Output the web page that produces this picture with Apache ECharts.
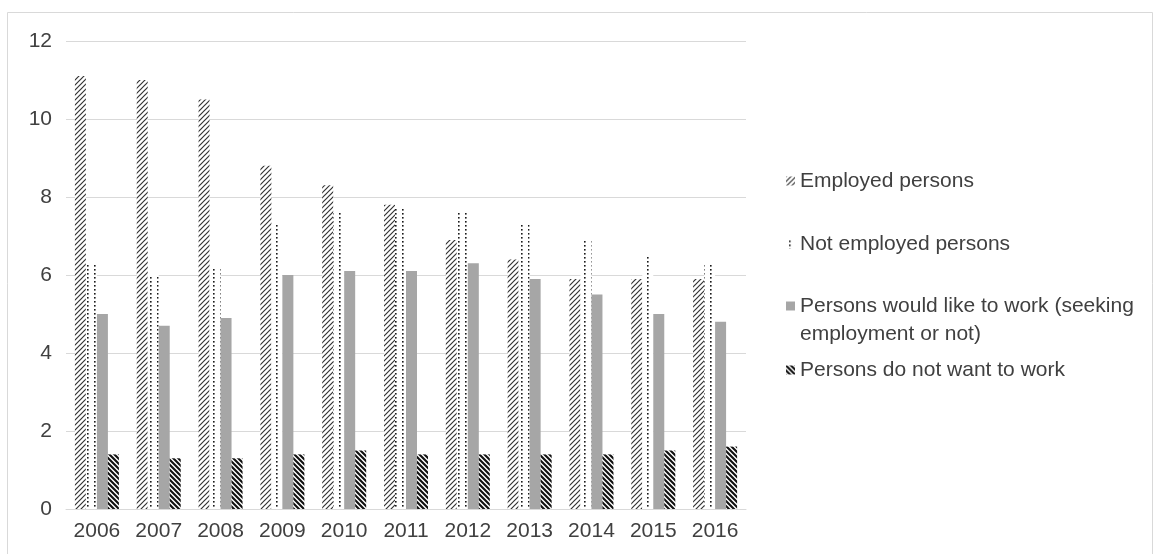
<!DOCTYPE html>
<html>
<head>
<meta charset="utf-8">
<script src="https://cdn.jsdelivr.net/npm/echarts@6/dist/echarts.min.js"></script>
<style>
  html, body { margin: 0; padding: 0; background: #ffffff; }
  #chart { width: 1156px; height: 554px; }
</style>
</head>
<body>
<div id="chart"></div>
<script>
// Survey years and the four groups of persons (values in %)
const years = ['2006', '2007', '2008', '2009', '2010', '2011', '2012', '2013', '2014', '2015', '2016'];
const employed = [11.1, 11.0, 10.5, 8.8, 8.3, 7.8, 6.9, 6.4, 5.9, 5.9, 5.9];
const notEmployed = [6.3, 6.0, 6.2, 7.3, 7.6, 7.7, 7.6, 7.3, 6.9, 6.5, 6.3];
const wouldLikeToWork = [5.0, 4.7, 4.9, 6.0, 6.1, 6.1, 6.3, 5.9, 5.5, 5.0, 4.8];
const doNotWantToWork = [1.4, 1.3, 1.3, 1.4, 1.5, 1.4, 1.4, 1.4, 1.4, 1.5, 1.6];

const seriesNames = [
  'Employed persons',
  'Not employed persons',
  'Persons would like to work (seeking employment or not)',
  'Persons do not want to work'
];
const yTicks = { min: 0, max: 12, step: 2 };

const FONT = '"Liberation Sans", Arial, sans-serif';
const FONT_SIZE = 21;
const TEXT = '#404040';

// Tiled fills drawn on small canvases
function diagonalTile(size, width, color, upward) {
  const c = document.createElement('canvas');
  c.width = size; c.height = size;
  const g = c.getContext('2d');
  g.fillStyle = '#ffffff';
  g.fillRect(0, 0, size, size);
  g.strokeStyle = color;
  g.lineWidth = width;
  g.lineCap = 'square';
  g.beginPath();
  if (upward) {
    g.moveTo(-1, size + 1); g.lineTo(size + 1, -1);
    g.moveTo(-1, 1); g.lineTo(1, -1);
    g.moveTo(size - 1, size + 1); g.lineTo(size + 1, size - 1);
  } else {
    g.moveTo(-1, -1); g.lineTo(size + 1, size + 1);
    g.moveTo(size - 1, -1); g.lineTo(size + 1, 1);
    g.moveTo(-1, size - 1); g.lineTo(1, size + 1);
  }
  g.stroke();
  return { image: c, repeat: 'repeat' };
}

function dotTile(w, h, color) {
  const c = document.createElement('canvas');
  c.width = w; c.height = h;
  const g = c.getContext('2d');
  g.fillStyle = '#ffffff';
  g.fillRect(0, 0, w, h);
  g.fillStyle = color;
  g.fillRect(3, 1, 1.6, 1.6);
  return { image: c, repeat: 'repeat' };
}

const fills = [
  diagonalTile(5, 1.2, '#333333', true),
  dotTile(7, 4, '#1a1a1a'),
  '#a6a6a6',
  diagonalTile(5, 2.1, '#111111', false)
];
const values = [employed, notEmployed, wouldLikeToWork, doNotWantToWork];

// One legend block per entry so each row sits at its own height
const legendRows = [
  { top: 166.5, text: null },
  { top: 229.5, text: null },
  { top: 291.5, text: 'Persons would like to work (seeking' },
  { top: 355.5, text: null }
];

const chart = echarts.init(document.getElementById('chart'), null, { renderer: 'canvas' });

chart.setOption({
  animation: false,
  backgroundColor: '#ffffff',
  grid: { left: 66, right: 410, top: 41, bottom: 45, containLabel: false },
  legend: legendRows.map((row, i) => ({
    data: [seriesNames[i]],
    orient: 'vertical',
    left: 786,
    top: row.top,
    icon: 'rect',
    itemWidth: 9,
    itemHeight: 9,
    itemGap: 0,
    padding: 0,
    selectedMode: false,
    formatter: row.text ? () => row.text : '{name}',
    textStyle: { fontFamily: FONT, fontSize: FONT_SIZE, color: TEXT, lineHeight: 29, padding: [0, 0, 0, 0] }
  })),
  graphic: [
    {
      type: 'rect',
      silent: true,
      shape: { x: 7.5, y: 12.5, width: 1145, height: 600 },
      style: { fill: null, stroke: '#d9d9d9', lineWidth: 1 }
    },
    {
      type: 'text',
      silent: true,
      left: 800,
      top: 324,
      style: { text: 'employment or not)', font: FONT_SIZE + 'px ' + FONT, fill: TEXT }
    }
  ],
  xAxis: {
    type: 'category',
    data: years,
    axisLine: { show: true, lineStyle: { color: '#d9d9d9', width: 1 } },
    axisTick: { show: false },
    axisLabel: { fontFamily: FONT, fontSize: FONT_SIZE, color: TEXT, margin: 12 }
  },
  yAxis: {
    type: 'value',
    min: yTicks.min,
    max: yTicks.max,
    interval: yTicks.step,
    axisLine: { show: false },
    axisTick: { show: false },
    splitLine: { lineStyle: { color: '#d9d9d9', width: 1 } },
    axisLabel: { fontFamily: FONT, fontSize: FONT_SIZE, color: TEXT, margin: 14 }
  },
  series: seriesNames.map((name, i) => ({
    name,
    type: 'bar',
    data: values[i],
    barWidth: 11,
    barGap: '0%',
    itemStyle: { color: fills[i] },
    emphasis: { disabled: true }
  }))
});
</script>
</body>
</html>
